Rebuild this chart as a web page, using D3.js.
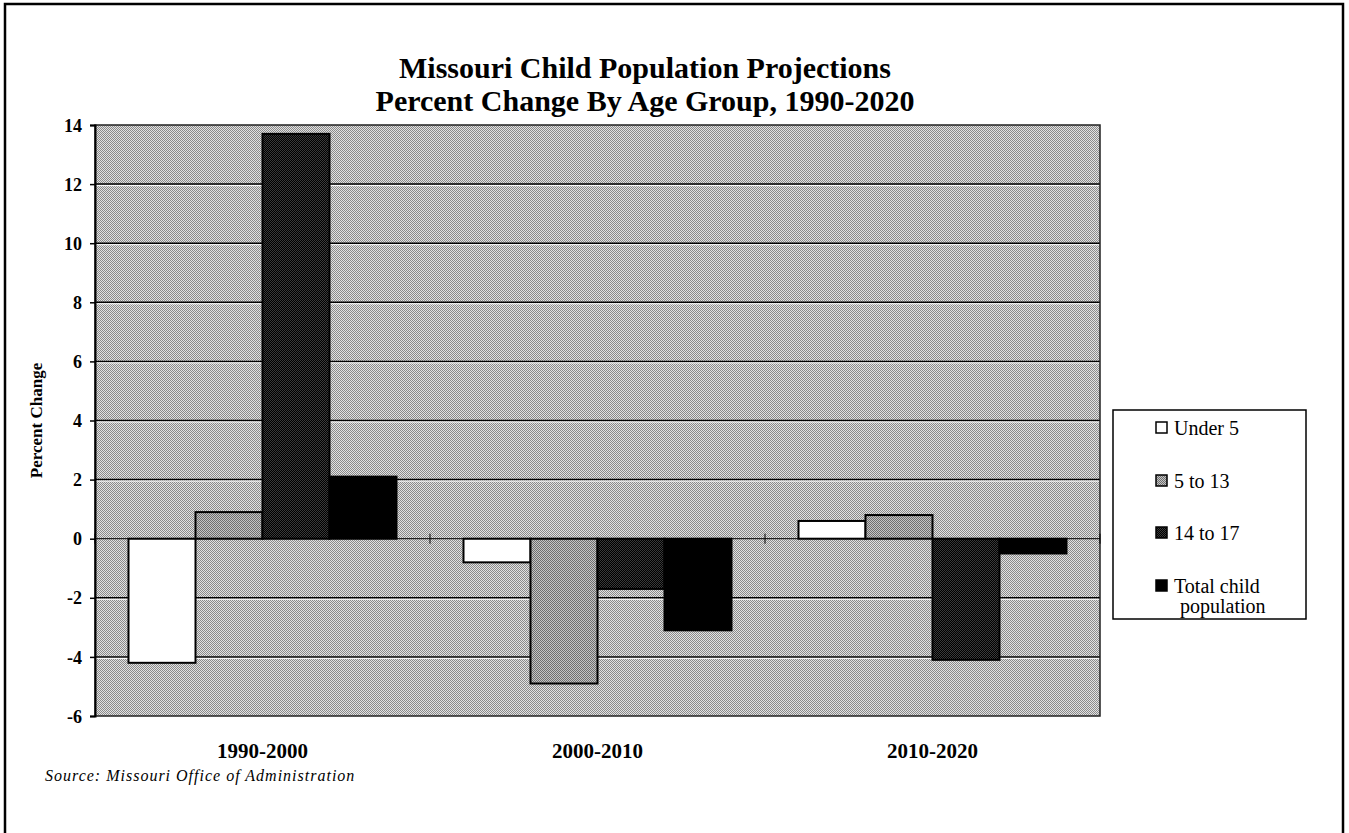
<!DOCTYPE html>
<html>
<head>
<meta charset="utf-8">
<script src="https://cdn.jsdelivr.net/npm/d3@7"></script>
<style>
  html, body { margin: 0; padding: 0; background: #fff; }
  svg { display: block; }
  text { font-family: "Liberation Serif", "Times New Roman", serif; fill: #000; }
</style>
</head>
<body>
<svg id="chart" width="1349" height="833"></svg>
<script>
// Projection periods, age groups and percent change values
const periods = ["1990-2000", "2000-2010", "2010-2020"];
const groups = ["Under 5", "5 to 13", "14 to 17", "Total child population"];
const under5 = [-4.2, -0.8, 0.6];
const age5to13 = [0.9, -4.9, 0.8];
const age14to17 = [13.7, -1.7, -4.1];
const totalChild = [2.1, -3.1, -0.5];
const yTicks = [-6, -4, -2, 0, 2, 4, 6, 8, 10, 12, 14];

const seriesValues = [under5, age5to13, age14to17, totalChild];
const fills = ["#ffffff", "url(#dither-mid)", "url(#dither-dark)", "#000000"];

const svg = d3.select("#chart");
const defs = svg.append("defs");

// halftone-like fills
function dither(id, base, dot) {
  const p = defs.append("pattern").attr("id", id)
    .attr("width", 2).attr("height", 2).attr("patternUnits", "userSpaceOnUse");
  p.append("rect").attr("width", 2).attr("height", 2).attr("fill", base);
  p.append("rect").attr("width", 1).attr("height", 1).attr("fill", dot);
  p.append("rect").attr("x", 1).attr("y", 1).attr("width", 1).attr("height", 1).attr("fill", dot);
}
dither("dither-bg", "#e2e2e2", "#8a8a8a");
dither("dither-mid", "#c4c4c4", "#6e6e6e");
dither("dither-dark", "#000000", "#3a3a3a");

const plot = { left: 95, right: 1100, top: 125, bottom: 716 };

const x0 = d3.scaleBand().domain(periods).range([plot.left, plot.right]).padding(0);
const x1 = d3.scaleBand().domain(groups).range([0, x0.bandwidth()])
  .paddingInner(0).paddingOuter(0.5);
const y = d3.scaleLinear().domain([-6, 14]).range([plot.bottom, plot.top]);

// outer frame
svg.append("rect").attr("x", 5).attr("y", 4).attr("width", 1338).attr("height", 860)
  .attr("fill", "none").attr("stroke", "#000").attr("stroke-width", 2.5);

// title
const title = svg.append("text").attr("text-anchor", "middle")
  .attr("font-weight", "bold").attr("font-size", 30);
title.append("tspan").attr("x", 645).attr("y", 78).text("Missouri Child Population Projections");
title.append("tspan").attr("x", 645).attr("y", 111).text("Percent Change By Age Group, 1990-2020");

// plot background
svg.append("rect")
  .attr("x", plot.left).attr("y", plot.top)
  .attr("width", plot.right - plot.left).attr("height", plot.bottom - plot.top)
  .attr("fill", "url(#dither-bg)");

// gridlines
const grid = svg.append("g");
yTicks.filter(t => t !== -6 && t !== 0 && t !== 14).forEach(t => {
  grid.append("line").attr("x1", plot.left).attr("x2", plot.right)
    .attr("y1", y(t)).attr("y2", y(t)).attr("stroke", "#000").attr("stroke-width", 1.5);
  grid.append("line").attr("x1", plot.left).attr("x2", plot.right)
    .attr("y1", y(t) + 1.5).attr("y2", y(t) + 1.5).attr("stroke", "#fff").attr("stroke-width", 1);
});

// plot border
svg.append("rect")
  .attr("x", plot.left).attr("y", plot.top)
  .attr("width", plot.right - plot.left).attr("height", plot.bottom - plot.top)
  .attr("fill", "none").attr("stroke", "#222").attr("stroke-width", 1.5);

// bars
const bars = svg.append("g");
periods.forEach((p, i) => {
  groups.forEach((g, j) => {
    const v = seriesValues[j][i];
    bars.append("rect")
      .attr("x", x0(p) + x1(g))
      .attr("y", y(Math.max(0, v)))
      .attr("width", x1.bandwidth())
      .attr("height", Math.abs(y(v) - y(0)))
      .attr("fill", fills[j])
      .attr("stroke", "#000").attr("stroke-width", 2);
  });
});

// zero axis with category ticks
svg.append("line").attr("x1", plot.left).attr("x2", plot.right)
  .attr("y1", y(0)).attr("y2", y(0)).attr("stroke", "#000").attr("stroke-width", 1);
const catBounds = [x0.range()[0]].concat(periods.map(p => x0(p) + x0.bandwidth()));
catBounds.forEach(bx => {
  svg.append("line").attr("x1", bx).attr("x2", bx)
    .attr("y1", y(0) - 5).attr("y2", y(0) + 5).attr("stroke", "#000").attr("stroke-width", 1);
});

// y axis
const yAxis = d3.axisLeft(y).tickValues(yTicks).tickSize(5).tickPadding(8)
  .tickFormat(d => String(d));
const ya = svg.append("g").attr("transform", `translate(${plot.left},0)`).call(yAxis);
ya.attr("font-family", null).attr("font-size", null);
ya.select(".domain").attr("stroke", "#000").attr("stroke-width", 2);
ya.selectAll(".tick line").attr("stroke", "#000").attr("stroke-width", 1.5);
ya.selectAll(".tick text")
  .attr("font-weight", "bold").attr("font-size", 18).attr("dy", "0.34em");

// y axis title
svg.append("text")
  .attr("transform", `translate(42,${(plot.top + plot.bottom) / 2}) rotate(-90)`)
  .attr("text-anchor", "middle").attr("font-weight", "bold").attr("font-size", 17)
  .text("Percent Change");

// category labels
svg.append("g").selectAll("text").data(periods).join("text")
  .attr("x", d => x0(d) + x0.bandwidth() / 2)
  .attr("y", 758)
  .attr("text-anchor", "middle").attr("font-weight", "bold").attr("font-size", 21)
  .text(d => d);

// source note
svg.append("text").attr("x", 45).attr("y", 781)
  .attr("font-style", "italic").attr("font-size", 16).attr("letter-spacing", 1)
  .text("Source: Missouri Office of Administration");

// legend
const legend = svg.append("g");
legend.append("rect").attr("x", 1113).attr("y", 410).attr("width", 193).attr("height", 209)
  .attr("fill", "#fff").attr("stroke", "#000").attr("stroke-width", 1.5);
const legendRows = [
  { lines: ["Under 5"], y: 435 },
  { lines: ["5 to 13"], y: 488 },
  { lines: ["14 to 17"], y: 540 },
  { lines: ["Total child", "population"], y: 593 }
];
legendRows.forEach((row, j) => {
  legend.append("rect").attr("x", 1156).attr("y", row.y - 13).attr("width", 11).attr("height", 11)
    .attr("fill", fills[j]).attr("stroke", "#000").attr("stroke-width", 1.5);
  const t = legend.append("text").attr("font-size", 20);
  row.lines.forEach((ln, k) => {
    t.append("tspan").attr("x", k === 0 ? 1174 : 1180).attr("y", row.y + k * 20).text(ln);
  });
});
</script>
</body>
</html>
